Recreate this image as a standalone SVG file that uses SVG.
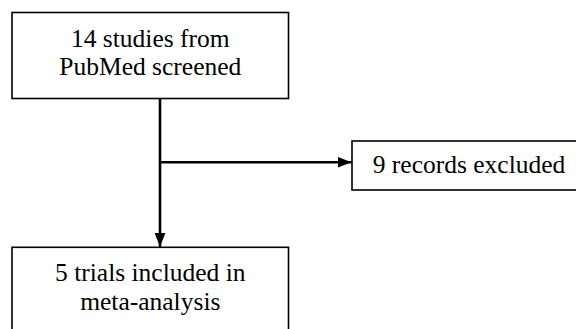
<svg xmlns="http://www.w3.org/2000/svg" width="576" height="329" viewBox="0 0 576 329">
  <style>
    .box { fill: #ffffff; stroke: #000000; stroke-width: 1.6; }
    .label { font-family: 'Liberation Serif', 'Times New Roman', Times, serif; font-size: 25.5px; fill: #000000; text-anchor: middle; }
    .link { fill: none; stroke: #000000; stroke-width: 2.6; }
  </style>
  <defs>
    <marker id="arrow" viewBox="0 0 14 11" refX="14" refY="5.5" markerWidth="14" markerHeight="11" markerUnits="userSpaceOnUse" orient="auto">
      <path d="M0,0 L14,5.5 L0,11 Z" fill="#000000"/>
    </marker>
  </defs>
  <rect width="576" height="329" fill="#ffffff"/>

  <g id="connectors">
    <line class="link" x1="160" y1="98.5" x2="160" y2="246.8" marker-end="url(#arrow)"/>
    <line class="link" x1="160" y1="162.3" x2="351.5" y2="162.3" marker-end="url(#arrow)"/>
  </g>

  <g id="screened">
    <rect class="box" x="12" y="12.5" width="276.5" height="86"/>
    <text class="label" font-family="Liberation Serif, serif" x="150.3" y="47">14 studies from</text>
    <text class="label" font-family="Liberation Serif, serif" x="150.3" y="74.5">PubMed screened</text>
  </g>

  <g id="excluded">
    <rect class="box" x="352" y="141" width="240" height="49"/>
    <text class="label" font-family="Liberation Serif, serif" x="469" y="172.7">9 records excluded</text>
  </g>

  <g id="included">
    <rect class="box" x="12" y="247.3" width="276.5" height="100"/>
    <text class="label" font-family="Liberation Serif, serif" x="150.3" y="280.8">5 trials included in</text>
    <text class="label" font-family="Liberation Serif, serif" x="150.3" y="309.5">meta-analysis</text>
  </g>
</svg>
